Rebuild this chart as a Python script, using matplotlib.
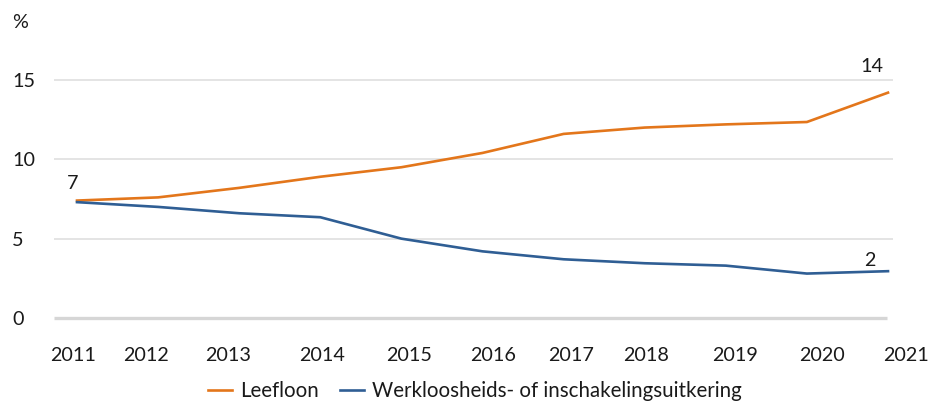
import numpy as np
import matplotlib
matplotlib.use("Agg")
import matplotlib.pyplot as plt

plt.rcParams["font.family"] = ["Lato", "DejaVu Sans"]

years = [2011, 2012, 2013, 2014, 2015, 2016, 2017, 2018, 2019, 2020, 2021]
leefloon = [7.4, 7.6, 8.2, 8.9, 9.5, 10.4, 11.6, 12.0, 12.2, 12.35, 14.2]
werkloosheid = [7.3, 7.0, 6.6, 6.35, 5.0, 4.2, 3.7, 3.45, 3.3, 2.8, 2.95]
series_names = ["Leefloon", "Werkloosheids- of inschakelingsuitkering"]
first_label = "7"
end_labels = ["14", "2"]
y_ticks = [0, 5, 10, 15]

ORANGE = "#E3761B"
BLUE = "#2F5E94"
TXT = "#1a1a1a"
FS = 14.2

fig = plt.figure(figsize=(9.29, 4.12), dpi=100)
ax = fig.add_axes([54 / 929, 82 / 412, 866 / 929, 290 / 412])

x0 = 2011 - 23 / 81.1
ax.set_xlim(x0, x0 + 866 / 81.1)
ax.set_ylim(-12 / 15.87, 278 / 15.87)

# gridlines
for y in y_ticks[1:]:
    ax.hlines(y, x0, 2021.06, color="#e2e2e2", lw=1.3, zorder=1)
ax.hlines(0, x0, 2020.99, color="#d6d6d6", lw=2.4, zorder=1)

ax.plot(years, leefloon, color=ORANGE, lw=1.9, label=series_names[0], zorder=3)
ax.plot(years, werkloosheid, color=BLUE, lw=1.9, label=series_names[1], zorder=3)

# value labels
ax.annotate(first_label, (years[0], leefloon[0]), xytext=(-3.5, 12), textcoords="offset points",
            ha="center", va="center", fontsize=FS, color=TXT)
ax.annotate(end_labels[0], (years[-1], leefloon[-1]), xytext=(-3.5, 18.5), textcoords="offset points",
            ha="right", va="center", fontsize=FS, color=TXT)
ax.annotate(end_labels[1], (years[-1], werkloosheid[-1]), xytext=(-13, 8), textcoords="offset points",
            ha="center", va="center", fontsize=FS, color=TXT)

# x labels sit a bit off the data points, as in the original
shift = [-0.05, -0.15, -0.14, 0.02, 0.1, 0.13, 0.09, 0.02, 0.11, 0.19, 0.22]
ax.set_xticks([yr + s for yr, s in zip(years, shift)])
ax.set_xticklabels([str(yr) for yr in years])
ax.tick_params(axis="x", length=0, pad=12.5, labelsize=FS, labelcolor=TXT)

ax.set_yticks(y_ticks)
ax.set_yticklabels([str(v) for v in y_ticks])
ax.tick_params(axis="y", length=0, pad=30, labelsize=FS, labelcolor=TXT)
for lab in ax.get_yticklabels():
    lab.set_horizontalalignment("left")

for s in ax.spines.values():
    s.set_visible(False)

fig.text(12 / 929, 1 - 22 / 412, "%", fontsize=FS, color=TXT, ha="left", va="center")

fig.legend(loc="lower center", bbox_to_anchor=(475 / 929, 0), ncol=2, frameon=False,
           fontsize=FS + 0.6, handlelength=1.15, handletextpad=0.4, columnspacing=1.05,
           labelcolor=TXT, borderpad=0.05)

fig.savefig("out.png", dpi=100)
